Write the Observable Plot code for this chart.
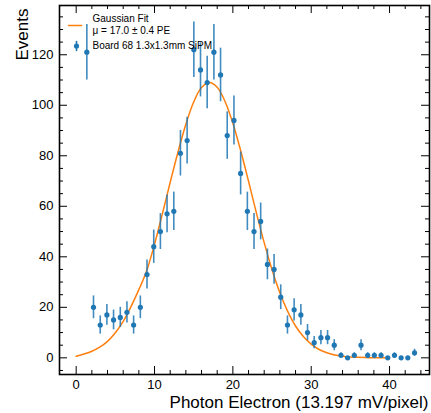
<!DOCTYPE html>
<html><head><meta charset="utf-8">
<script src="https://cdn.jsdelivr.net/npm/d3@7"></script>
<script src="https://cdn.jsdelivr.net/npm/@observablehq/plot@0.6"></script>
<style>
body{margin:0;background:#fff}
#chart svg{font-family:"Liberation Sans",Arial,Helvetica,sans-serif}
</style>
</head><body><div id="chart"></div>
<script>
// ---- data ----
const binCenters = [1.36,2.21,3.07,3.92,4.77,5.63,6.48,7.33,8.19,9.04,
  9.90,10.75,11.60,12.46,13.31,14.16,15.02,15.87,16.72,17.58,
  18.43,19.28,20.14,20.99,21.85,22.70,23.55,24.41,25.26,26.11,
  26.97,27.82,28.68,29.53,30.38,31.24,32.09,32.94,33.80,34.65,
  35.50,36.36,37.21,38.06,38.92,39.77,40.63,41.48,42.33,43.19];
const counts = [121,20,13,17,15,16,18,13,20,33,
  44,50,57,58,81,86,122,114,109,121,
  112,88,94,73,58,50,54,37,35,24,
  13,19,17,10,6,8,8,5,1,0,
  1,5,1,1,1,0,1,0,0,2];
const countErrors = [11,4.5,3.6,4.1,3.9,4,4.2,3.6,4.5,5.7,
  6.6,7.1,7.5,7.6,9,9.3,11,10.7,10.4,11,
  10.6,9.4,9.7,8.5,7.6,7.1,7.3,6.1,5.9,4.9,
  3.6,4.4,4.1,3.2,2.4,2.8,2.8,2.2,1,0,
  1,2.2,1,1,1,0,1,0,0,1.4];
const fitX = [0,1,2,3,4,5,6,7,8,9,10,11,12,13,14,15,16,17,18,19,20,
  21,22,23,24,25,26,27,28,29,30,31,32,33,34,35,36,37,38,39,40];
const fitY = [0.6,1.5,2.6,4.2,6.5,9.9,14.4,20.3,27.0,34.5,45.0,57.0,69.5,81.5,92.5,101.3,107.0,109.0,107.1,101.5,92.9,
  82.0,69.9,57.4,45.6,34.9,25.8,18.4,12.6,8.4,5.4,3.3,2.0,1.1,0.6,0.3,0.2,0.1,0.0,0.0,0.0];
const xMajorTicks = [0,10,20,30,40];
const xMinorTicks = [2,4,6,8,12,14,16,18,22,24,26,28,32,34,36,38,42,44];
const yMajorTicks = [0,20,40,60,80,100,120];
const yMinorTicks = [-5,5,10,15,25,30,35,45,50,55,65,70,75,85,90,95,105,110,115,125,130,135];
const legendLabels = ["Gaussian Fit","μ = 17.0 ± 0.4 PE","Board 68 1.3x1.3mm SiPM"];
const xLabel = "Photon Electron (13.197 mV/pixel)";
const yLabel = "Events";

// ---- build ----
const points = binCenters.map((x,i)=>({x, y:counts[i], e:countErrors[i]}));
const fit = fitX.map((x,i)=>({x, y:fitY[i]}));
const W=431, H=413, mL=59, mR=2, mT=5, mB=39;
const fw=W-mL-mR, fh=H-mT-mB;
const major=8, minor=4;
const blue="#1f77b4", orange="#ff7f0e";
const lineShape = {draw(ctx,l){ctx.moveTo(0,0);ctx.lineTo(0,-l);}};
const font = '"Liberation Sans",Arial,Helvetica,sans-serif';

const chart = Plot.plot({
  width:W, height:H, marginLeft:mL, marginRight:mR, marginTop:mT, marginBottom:mB,
  style:{fontFamily:font, background:"white", color:"black"},
  x:{domain:[-2.13,45.1]},
  y:{domain:[-6.6,139.5]},
  marks:[
    Plot.line(fit,{x:"x",y:"y",stroke:orange,strokeWidth:1.5,curve:"catmull-rom"}),
    Plot.ruleX(points.filter(d=>d.e>0),{x:"x",y1:d=>d.y-d.e,y2:d=>d.y+d.e,stroke:blue,strokeWidth:1.6,strokeOpacity:0.85}),
    Plot.dot(points,{x:"x",y:"y",r:2.6,fill:blue}),
    // inward ticks on four sides
    Plot.tickX(xMajorTicks,{x:d=>d,insetTop:fh-major,stroke:"black"}),
    Plot.tickX(xMajorTicks,{x:d=>d,insetBottom:fh-major,stroke:"black"}),
    Plot.tickX(xMinorTicks,{x:d=>d,insetTop:fh-minor,stroke:"black"}),
    Plot.tickX(xMinorTicks,{x:d=>d,insetBottom:fh-minor,stroke:"black"}),
    Plot.tickY(yMajorTicks,{y:d=>d,insetRight:fw-major,stroke:"black"}),
    Plot.tickY(yMajorTicks,{y:d=>d,insetLeft:fw-major,stroke:"black"}),
    Plot.tickY(yMinorTicks,{y:d=>d,insetRight:fw-minor,stroke:"black"}),
    Plot.tickY(yMinorTicks,{y:d=>d,insetLeft:fw-minor,stroke:"black"}),
    Plot.frame({stroke:"black",strokeWidth:1.6}),
    Plot.axisX(xMajorTicks,{tickSize:0,tickPadding:5,fontSize:13,label:null,fill:"black"}),
    Plot.axisY(yMajorTicks,{tickSize:0,tickPadding:6,fontSize:13,label:null,fill:"black"}),
    // axis titles
    Plot.text([xLabel],{frameAnchor:"bottom-right",dx:-1,dy:27.6,textAnchor:"end",lineAnchor:"middle",fontSize:17,fill:"black"}),
    Plot.text([yLabel],{frameAnchor:"top-left",dx:-37,dy:3,rotate:-90,textAnchor:"end",lineAnchor:"middle",fontSize:17,fill:"black"}),
    // legend
    Plot.vector([0],{frameAnchor:"top-left",dx:9,dy:20,rotate:90,length:13,anchor:"start",shape:lineShape,stroke:orange,strokeWidth:1.5}),
    Plot.vector([0],{frameAnchor:"top-left",dx:17,dy:45,rotate:0,length:9,anchor:"start",shape:lineShape,stroke:blue,strokeWidth:1.6}),
    Plot.dot([0],{x:null,y:null,frameAnchor:"top-left",dx:17,dy:40.5,r:2.6,fill:blue}),
    ...legendLabels.map((t,i)=>Plot.text([t],{frameAnchor:"top-left",dx:33,dy:[13.3,25.7,40.7][i],textAnchor:"start",lineAnchor:"middle",fontSize:10,fill:"black"}))
  ]
});
document.getElementById("chart").append(chart);
</script>
</body></html>
